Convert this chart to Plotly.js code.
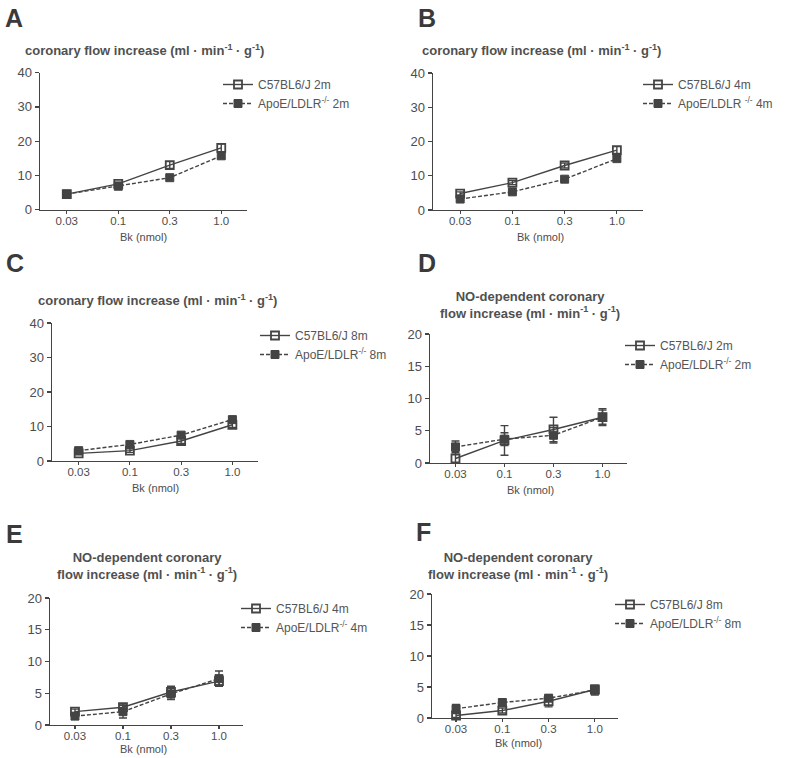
<!DOCTYPE html>
<html>
<head>
<meta charset="utf-8">
<script src="https://cdn.plot.ly/plotly-3.0.1.min.js"></script>
<style>
html,body{margin:0;padding:0;background:#fff;}
#chart{width:787px;height:758px;}
</style>
</head>
<body>
<div id="chart"></div>
<script>
// ---- data ----
const doses = ['0.03', '0.1', '0.3', '1.0'];

const panelLetters = ['A', 'B', 'C', 'D', 'E', 'F'];
const wtNames = ['C57BL6/J 2m', 'C57BL6/J 4m', 'C57BL6/J 8m', 'C57BL6/J 2m', 'C57BL6/J 4m', 'C57BL6/J 8m'];
const koNames = ['ApoE/LDLR<sup>-/-</sup> 2m', 'ApoE/LDLR <sup>-/-</sup> 4m', 'ApoE/LDLR<sup>-/-</sup> 8m',
                 'ApoE/LDLR<sup>-/-</sup> 2m', 'ApoE/LDLR<sup>-/-</sup> 4m', 'ApoE/LDLR<sup>-/-</sup> 8m'];
const titleFlow = 'coronary flow increase (ml · min<sup>-1</sup> · g<sup>-1</sup>)';
const titleNO = 'NO-dependent coronary<br>flow increase (ml · min<sup>-1</sup> · g<sup>-1</sup>)';
const xLabel = 'Bk (nmol)';
const yTicksFlow = [0, 10, 20, 30, 40];
const yTicksNO = [0, 5, 10, 15, 20];

// Panel A: total flow, 2 months
const A_wt = [4.5, 7.5, 13.0, 18.0];
const A_wt_err = [0.3, 0.5, 1.0, 1.2];
const A_ko = [4.5, 6.8, 9.3, 15.7];
const A_ko_err = [0.4, 0.4, 0.5, 0.8];
// Panel B: total flow, 4 months
const B_wt = [4.8, 8.0, 13.0, 17.5];
const B_wt_err = [0.5, 0.6, 0.7, 1.0];
const B_ko = [3.2, 5.3, 9.0, 15.0];
const B_ko_err = [0.4, 0.4, 0.5, 0.7];
// Panel C: total flow, 8 months
const C_wt = [2.2, 3.0, 5.8, 10.5];
const C_wt_err = [0.4, 0.5, 0.7, 0.8];
const C_ko = [3.0, 4.8, 7.5, 12.0];
const C_ko_err = [0.4, 0.5, 0.6, 0.6];
// Panel D: NO-dependent, 2 months
const D_wt = [0.7, 3.5, 5.2, 7.1];
const D_wt_err = [1.1, 2.3, 1.9, 1.3];
const D_ko = [2.5, 3.7, 4.3, 7.1];
const D_ko_err = [0.9, 1.0, 1.2, 1.1];
// Panel E: NO-dependent, 4 months
const E_wt = [2.1, 2.8, 5.2, 6.9];
const E_wt_err = [0.4, 0.5, 0.9, 0.6];
const E_ko = [1.4, 2.1, 4.9, 7.3];
const E_ko_err = [0.5, 1.0, 0.9, 1.2];
// Panel F: NO-dependent, 8 months
const F_wt = [0.4, 1.2, 2.7, 4.6];
const F_wt_err = [0.3, 0.4, 0.9, 0.4];
const F_ko = [1.5, 2.5, 3.2, 4.5];
const F_ko_err = [0.7, 0.5, 0.5, 0.8];

const wtSeries = [A_wt, B_wt, C_wt, D_wt, E_wt, F_wt];
const wtErrs = [A_wt_err, B_wt_err, C_wt_err, D_wt_err, E_wt_err, F_wt_err];
const koSeries = [A_ko, B_ko, C_ko, D_ko, E_ko, F_ko];
const koErrs = [A_ko_err, B_ko_err, C_ko_err, D_ko_err, E_ko_err, F_ko_err];

// ---- layout geometry (pixels) ----
const W = 787, H = 758;
const INK = '#444444';
const TXT = '#4d4d4d';
// [left, right, top, bottom] of each plot area
const boxes = [
  [40, 247, 72.7, 209.5],
  [433, 643, 73, 210],
  [52, 258, 323, 461],
  [430, 627, 334, 463],
  [50, 243, 598, 725],
  [432, 618, 594, 718]
];
const letterPos = [[3, 2], [416, 2], [4, 247], [416, 247], [4, 518], [414, 516]];
const titlePos = [[144, 50], [541, 50], [157, 300], [530, 305], [147, 566], [518, 566]];
const xLabelPos = [[143, 237], [540, 237], [155, 488], [530, 490], [143, 749], [518, 743]];
const legendPos = [[218, 70], [638, 70], [255, 321], [620, 331], [236, 594], [610, 590]];

const fontFam = '"Liberation Sans", Arial, sans-serif';
const traces = [];
const layout = {
  width: W, height: H,
  margin: {l: 0, r: 0, t: 0, b: 0},
  paper_bgcolor: '#ffffff', plot_bgcolor: '#ffffff',
  font: {family: fontFam, color: TXT},
  annotations: [],
  showlegend: true
};

for (let i = 0; i < 6; i++) {
  const n = i === 0 ? '' : String(i + 1);
  const xa = 'x' + n, ya = 'y' + n;
  const lg = i === 0 ? 'legend' : 'legend' + (i + 1);
  const isNO = i >= 3;
  const [l, r, t, b] = boxes[i];

  traces.push({
    type: 'scatter', mode: 'lines+markers', x: doses, y: wtSeries[i],
    xaxis: xa, yaxis: ya, legend: lg, name: wtNames[i],
    line: {color: INK, width: 1.4, dash: 'solid'},
    marker: {symbol: 'square-open', size: 8, color: INK, line: {color: INK, width: 1.8}},
    error_y: {type: 'data', array: wtErrs[i], visible: true, color: INK, thickness: 1.4, width: 4},
    cliponaxis: false
  });
  traces.push({
    type: 'scatter', mode: 'lines+markers', x: doses, y: koSeries[i],
    xaxis: xa, yaxis: ya, legend: lg, name: koNames[i],
    line: {color: INK, width: 1.4, dash: '4px,2px'},
    marker: {symbol: 'square', size: 8, color: INK, line: {color: INK, width: 1}},
    error_y: {type: 'data', array: koErrs[i], visible: true, color: INK, thickness: 1.4, width: 4},
    cliponaxis: false
  });

  layout['xaxis' + n] = {
    domain: [l / W, r / W], anchor: ya,
    type: 'category', range: [-0.52, 3.5], fixedrange: true,
    showline: true, linecolor: INK, linewidth: 1.4,
    showgrid: false, zeroline: false,
    ticks: 'outside', ticklen: 3, tickwidth: 1.2, tickcolor: INK,
    ticklabelstandoff: -3,
    tickfont: {size: 11.5, color: TXT, family: fontFam}
  };
  layout['yaxis' + n] = {
    domain: [1 - b / H, 1 - t / H], anchor: xa,
    range: isNO ? [0, 20] : [0, 40], fixedrange: true,
    tickvals: isNO ? yTicksNO : yTicksFlow,
    showline: true, linecolor: INK, linewidth: 1.4,
    showgrid: false, zeroline: false,
    ticks: 'outside', ticklen: 4, tickwidth: 1.2, tickcolor: INK,
    tickfont: {size: 13, color: TXT, family: fontFam}
  };
  layout[lg] = {
    x: legendPos[i][0] / W, y: 1 - legendPos[i][1] / H,
    xanchor: 'left', yanchor: 'top',
    bgcolor: 'rgba(0,0,0,0)', borderwidth: 0,
    font: {size: 12, color: '#555555', family: fontFam},
    itemwidth: 30, tracegroupgap: 0
  };

  layout.annotations.push({
    text: '<b>' + panelLetters[i] + '</b>', xref: 'paper', yref: 'paper',
    x: letterPos[i][0] / W, y: 1 - letterPos[i][1] / H,
    xanchor: 'left', yanchor: 'top', showarrow: false,
    font: {size: 25, color: '#3a3a3a', family: fontFam}
  });
  layout.annotations.push({
    text: isNO ? titleNO : titleFlow, xref: 'paper', yref: 'paper',
    x: titlePos[i][0] / W, y: 1 - titlePos[i][1] / H,
    xanchor: 'center', yanchor: 'middle', showarrow: false, align: 'center',
    font: {size: 13, color: '#505050', family: fontFam, weight: 'bold'}
  });
  layout.annotations.push({
    text: xLabel, xref: 'paper', yref: 'paper',
    x: xLabelPos[i][0] / W, y: 1 - xLabelPos[i][1] / H,
    xanchor: 'center', yanchor: 'middle', showarrow: false,
    font: {size: 11, color: TXT, family: fontFam}
  });
}

Plotly.newPlot('chart', traces, layout, {displayModeBar: false, staticPlot: true});
</script>
</body>
</html>
